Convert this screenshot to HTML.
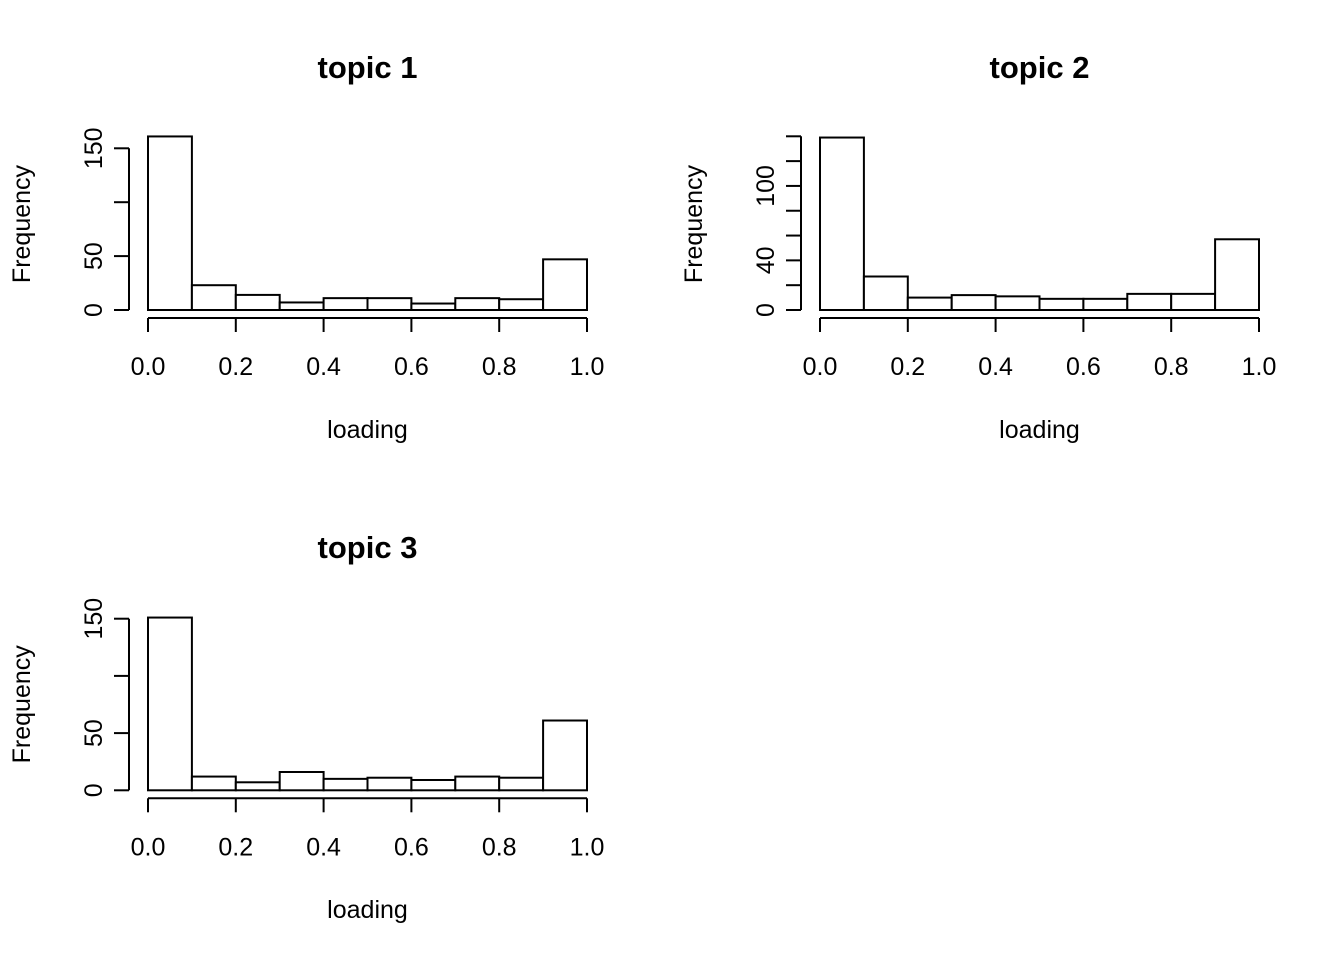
<!DOCTYPE html>
<html><head><meta charset="utf-8"><style>
html,body{margin:0;padding:0;background:#fff;}
svg{display:block;font-family:"Liberation Sans",Arial,sans-serif;}
</style></head><body>
<svg id="chart" width="1344" height="960" viewBox="0 0 1344 960"></svg>
<script>
const breaks = [0,0.1,0.2,0.3,0.4,0.5,0.6,0.7,0.8,0.9,1.0];
const xTicks = [0,0.2,0.4,0.6,0.8,1.0];
const xTickLabels = ["0.0","0.2","0.4","0.6","0.8","1.0"];
const topic1Counts = [161,23,14,7,11,11,6,11,10,47];
const topic2Counts = [139,27,10,12,11,9,9,13,13,57];
const topic3Counts = [151,12,7,16,10,11,9,12,11,61];
const topic1YTicks = [0,50,100,150];
const topic1YLabels = ["0","50","","150"];
const topic2YTicks = [0,20,40,60,80,100,120,140];
const topic2YLabels = ["0","","40","","","100","",""];
const topic3YTicks = [0,50,100,150];
const topic3YLabels = ["0","50","","150"];

const NS="http://www.w3.org/2000/svg";
const svg=document.getElementById('chart');
function mk(tag,attrs,parent){const e=document.createElementNS(NS,tag);for(const k in attrs)e.setAttribute(k,attrs[k]);(parent||svg).appendChild(e);return e;}

function panel(key,title,counts,yTicks,yLabels,px0,px1,py0,yTop,yTopVal,titleY){
  const g=mk('g',{});
  
  
  const xs=v=>px0+(px1-px0)*v;
  const ys=v=>py0-(py0-yTop)*v/yTopVal;
  const st={stroke:'#000','stroke-width':2,fill:'none'};
  counts.forEach((c,i)=>{
    const r=mk('rect',{x:xs(breaks[i]),y:ys(c),width:xs(breaks[i+1])-xs(breaks[i]),height:py0-ys(c),fill:'#fff',stroke:'#000','stroke-width':2},g);
    
    
  });
  const xa=mk('g',{},g);
  
  
  const axY=py0+8;
  mk('line',Object.assign({x1:xs(xTicks[0]),x2:xs(xTicks[xTicks.length-1]),y1:axY,y2:axY},st),xa);
  xTicks.forEach((t,i)=>{
    mk('line',Object.assign({x1:xs(t),x2:xs(t),y1:axY,y2:axY+14},st),xa);
    const tx=mk('text',{x:xs(t),y:axY+57,'font-size':25,'text-anchor':'middle'},xa);
    tx.textContent=xTickLabels[i];
    
    
  });
  const ya=mk('g',{},g);
  
  
  const axX=px0-19;
  mk('line',Object.assign({x1:axX,x2:axX,y1:ys(yTicks[0]),y2:ys(yTicks[yTicks.length-1])},st),ya);
  yTicks.forEach((t,i)=>{
    mk('line',Object.assign({x1:axX-15,x2:axX,y1:ys(t),y2:ys(t)},st),ya);
    if(yLabels[i]){
      const x=axX-35,y=ys(t);
      const tx=mk('text',{x:x,y:y,'font-size':25,'text-anchor':'middle','dominant-baseline':'central',transform:'rotate(-90 '+x+' '+y+')'},ya);
      tx.textContent=yLabels[i];
      
      
    }
  });
  const cx=(px0+px1)/2;
  const ttl=mk('text',{x:cx,y:titleY,'font-size':31,'font-weight':'bold','text-anchor':'middle'},g);
  ttl.textContent=title;
  
  
  const xl=mk('text',{x:cx,y:titleY+360,'font-size':25,'text-anchor':'middle'},g);
  xl.textContent='loading';
  
  
  const yx=(px0>500?694:22),yy=py0-86;
  const yl=mk('text',{x:yx,y:yy,'font-size':25,'text-anchor':'middle','dominant-baseline':'central',transform:'rotate(-90 '+yx+' '+yy+')'},g);
  yl.textContent='Frequency';
  
  
}
panel('topic-1','topic 1',topic1Counts,topic1YTicks,topic1YLabels,148,587,310,148.3,150,78);
panel('topic-2','topic 2',topic2Counts,topic2YTicks,topic2YLabels,820,1259,310,136.3,140,78);
panel('topic-3','topic 3',topic3Counts,topic3YTicks,topic3YLabels,148,587,790.3,618.7,150,558);
</script>
</body></html>
